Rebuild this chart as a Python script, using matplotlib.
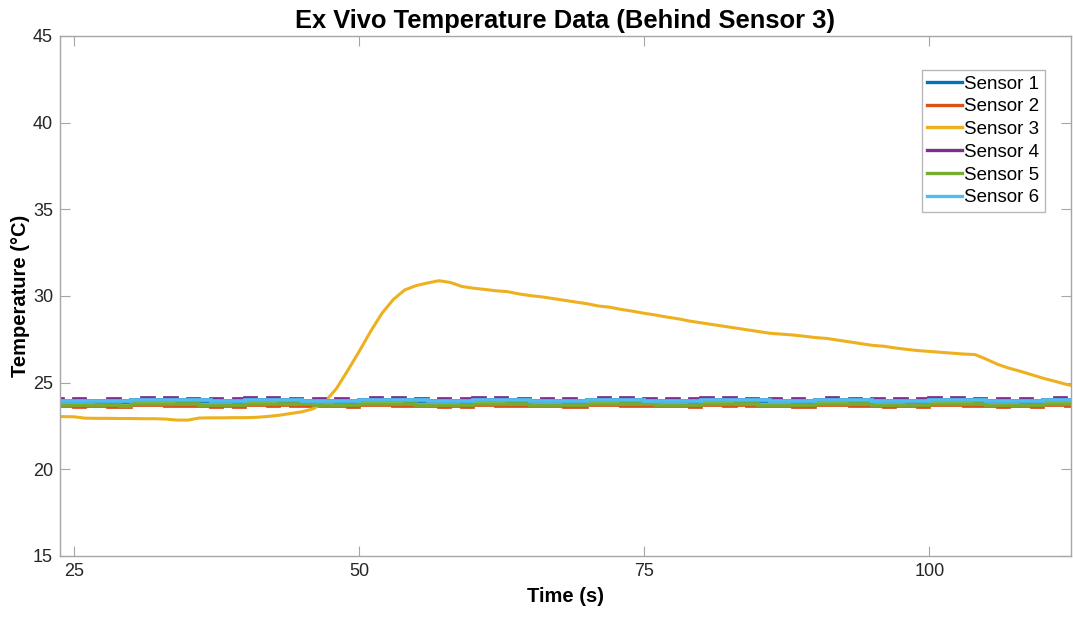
import matplotlib
matplotlib.use("Agg")
import matplotlib.pyplot as plt

plt.rcParams["font.family"] = ["Liberation Sans", "DejaVu Sans"]

# sample times (s)
TIME = list(range(23, 114))

# temperatures (degC), one value per second
SENSOR_1 = [
    23.94, 23.93, 23.93, 23.92, 23.91, 23.91, 23.90,
    24.00, 23.99, 23.98, 23.98, 23.96, 23.95, 23.95, 23.93, 23.92, 23.91,
    23.99, 23.98, 23.98, 23.96, 23.96, 23.94, 23.93, 23.93, 23.91, 23.90,
    24.00, 23.99, 23.97, 23.97, 23.95, 23.95, 23.93, 23.92, 23.92, 23.90,
    24.00, 23.98, 23.98, 23.96, 23.95, 23.94, 23.94, 23.92, 23.91, 23.91,
    23.99, 23.99, 23.97, 23.96, 23.96, 23.94, 23.93, 23.92, 23.92, 23.90,
    24.00, 23.98, 23.98, 23.96, 23.95, 23.95, 23.93, 23.92, 23.91, 23.90,
    23.99, 23.99, 23.97, 23.96, 23.95, 23.94, 23.94, 23.92, 23.91, 23.90,
    24.00, 23.98, 23.97, 23.97, 23.95, 23.94, 23.93, 23.93, 23.91, 23.90,
    24.00, 23.99, 23.98, 23.98,
]
SENSOR_2 = [
    23.67, 23.66, 23.62, 23.65, 23.63, 23.62, 23.58,
    23.73, 23.71, 23.71, 23.66, 23.68, 23.67, 23.65, 23.62, 23.63, 23.62,
    23.72, 23.71, 23.67, 23.69, 23.67, 23.66, 23.63, 23.64, 23.63, 23.58,
    23.73, 23.72, 23.70, 23.66, 23.68, 23.66, 23.65, 23.61, 23.63, 23.62,
    23.72, 23.71, 23.68, 23.68, 23.65, 23.67, 23.65, 23.64, 23.61, 23.61,
    23.73, 23.71, 23.70, 23.67, 23.67, 23.66, 23.63, 23.64, 23.63, 23.59,
    23.72, 23.72, 23.67, 23.69, 23.68, 23.64, 23.65, 23.65, 23.60, 23.61,
    23.73, 23.71, 23.71, 23.66, 23.67, 23.67, 23.62, 23.64, 23.64, 23.59,
    23.72, 23.72, 23.70, 23.65, 23.68, 23.66, 23.62, 23.65, 23.63, 23.58,
    23.73, 23.71, 23.68, 23.70,
]
SENSOR_3 = [
    23.05, 23.04, 23.03, 22.95, 22.94, 22.94, 22.93,
    22.93, 22.92, 22.92, 22.90, 22.84, 22.84, 22.96, 22.97, 22.97, 22.98,
    22.98, 23.00, 23.05, 23.12, 23.22, 23.32, 23.50, 23.90, 24.65, 25.70,
    26.80, 27.95, 29.00, 29.80, 30.35, 30.60, 30.75, 30.88, 30.78, 30.55,
    30.45, 30.38, 30.30, 30.25, 30.12, 30.02, 29.95, 29.85, 29.75, 29.65,
    29.55, 29.42, 29.35, 29.22, 29.12, 29.00, 28.90, 28.78, 28.68, 28.55,
    28.45, 28.35, 28.25, 28.15, 28.05, 27.95, 27.85, 27.80, 27.75, 27.68,
    27.60, 27.55, 27.45, 27.35, 27.25, 27.15, 27.10, 27.00, 26.92, 26.85,
    26.80, 26.75, 26.70, 26.65, 26.62, 26.35, 26.05, 25.83, 25.65, 25.45,
    25.25, 25.08, 24.90, 24.75,
]
SENSOR_4 = [
    24.05, 23.95, 24.04, 23.94, 23.93, 24.03, 23.92,
    24.02, 24.10, 24.00, 24.09, 23.98, 24.07, 23.97, 24.05, 23.94, 24.04,
    24.11, 24.00, 24.09, 23.98, 24.08, 23.96, 24.05, 23.95, 24.04, 23.92,
    24.02, 24.11, 23.99, 24.09, 23.97, 24.07, 23.95, 24.05, 23.94, 24.03,
    24.11, 24.00, 24.09, 23.98, 24.08, 23.96, 24.06, 23.94, 24.04, 23.93,
    24.01, 24.10, 23.99, 24.09, 23.98, 24.07, 23.95, 24.05, 23.94, 24.03,
    24.11, 24.00, 24.09, 23.98, 24.07, 23.97, 24.06, 23.94, 24.04, 23.92,
    24.01, 24.11, 23.99, 24.08, 23.97, 24.07, 23.96, 24.05, 23.93, 24.03,
    24.11, 24.00, 24.09, 23.99, 24.07, 23.96, 24.06, 23.95, 24.04, 23.92,
    24.02, 24.10, 24.00, 24.09,
]
SENSOR_5 = [
    23.73, 23.72, 23.72, 23.70, 23.70, 23.69, 23.68,
    23.79, 23.78, 23.77, 23.76, 23.75, 23.74, 23.73, 23.72, 23.71, 23.70,
    23.79, 23.77, 23.77, 23.75, 23.74, 23.74, 23.72, 23.71, 23.70, 23.69,
    23.78, 23.78, 23.76, 23.75, 23.75, 23.73, 23.72, 23.72, 23.70, 23.69,
    23.79, 23.77, 23.77, 23.76, 23.74, 23.73, 23.73, 23.71, 23.70, 23.70,
    23.78, 23.78, 23.76, 23.75, 23.74, 23.74, 23.72, 23.71, 23.71, 23.69,
    23.79, 23.77, 23.76, 23.76, 23.74, 23.73, 23.72, 23.72, 23.70, 23.69,
    23.78, 23.78, 23.77, 23.75, 23.74, 23.73, 23.73, 23.71, 23.70, 23.69,
    23.79, 23.77, 23.76, 23.76, 23.75, 23.73, 23.72, 23.71, 23.71, 23.69,
    23.79, 23.78, 23.77, 23.76,
]
SENSOR_6 = [
    23.96, 23.95, 23.95, 23.94, 23.93, 23.93, 23.92,
    24.02, 24.01, 24.00, 24.00, 23.98, 23.97, 23.97, 23.95, 23.94, 23.93,
    24.01, 24.00, 24.00, 23.98, 23.98, 23.96, 23.95, 23.95, 23.93, 23.92,
    24.02, 24.01, 23.99, 23.99, 23.97, 23.97, 23.95, 23.94, 23.94, 23.92,
    24.02, 24.00, 24.00, 23.98, 23.97, 23.96, 23.96, 23.94, 23.93, 23.93,
    24.01, 24.01, 23.99, 23.98, 23.98, 23.96, 23.95, 23.94, 23.94, 23.92,
    24.02, 24.00, 24.00, 23.98, 23.97, 23.97, 23.95, 23.94, 23.93, 23.92,
    24.01, 24.01, 23.99, 23.98, 23.97, 23.96, 23.96, 23.94, 23.93, 23.92,
    24.02, 24.00, 23.99, 23.99, 23.97, 23.96, 23.95, 23.95, 23.93, 23.92,
    24.02, 24.01, 24.00, 24.00,
]

LABELS = ["Sensor 1", "Sensor 2", "Sensor 3", "Sensor 4", "Sensor 5", "Sensor 6"]
COLORS = ["#0072BD", "#D95319", "#EDB120", "#7E2F8E", "#77AC30", "#4DBEEE"]

X_TICKS = [25, 50, 75, 100]
Y_TICKS = [15, 20, 25, 30, 35, 40, 45]


def main():
    fig = plt.figure(figsize=(10.73, 6.17), dpi=100)
    ax = fig.add_axes([0.0559, 0.0989, 0.9421, 0.8428])

    series = [SENSOR_1, SENSOR_2, SENSOR_3, SENSOR_4, SENSOR_5, SENSOR_6]
    for vals, lab, col in zip(series, LABELS, COLORS):
        if lab == "Sensor 3":
            ax.plot(TIME, vals, color=col, linewidth=2.2, label=lab)
        else:
            ax.plot(TIME, vals, color=col, linewidth=2.7, label=lab,
                    drawstyle="steps-post", solid_joinstyle="miter")

    ax.set_xlim(23.77, 112.4)
    ax.set_ylim(15, 45)
    ax.set_xticks(X_TICKS)
    ax.set_yticks(Y_TICKS)

    for sp in ax.spines.values():
        sp.set_color("#a6a6a6")
        sp.set_linewidth(1.0)
    ax.tick_params(direction="in", length=7, width=0.8, color="#a6a6a6",
                   labelcolor="#262626", labelsize=13, top=True, right=True,
                   pad=5)

    ax.set_title("Ex Vivo Temperature Data (Behind Sensor 3)",
                 fontsize=18.4, fontweight="bold", color="black", pad=6)
    ax.set_xlabel("Time (s)", fontsize=14.5, fontweight="bold", labelpad=5)
    ax.set_ylabel("Temperature (\u00b0C)", fontsize=14.5, fontweight="bold",
                  labelpad=2)

    leg = ax.legend(loc="upper right", bbox_to_anchor=(0.974, 0.935),
                    fontsize=13.5, frameon=True, fancybox=False,
                    handlelength=1.85, handletextpad=0.1, labelspacing=0.3,
                    borderpad=0.3, borderaxespad=0.0)
    leg.get_frame().set_edgecolor("#a6a6a6")
    leg.get_frame().set_linewidth(1.0)
    for line in leg.get_lines():
        line.set_linewidth(2.4)

    fig.savefig("out.png", dpi=100)
    plt.close(fig)


if __name__ == "__main__":
    main()
